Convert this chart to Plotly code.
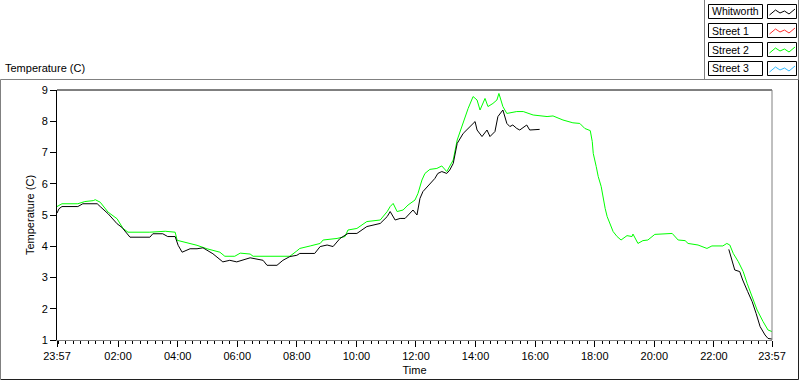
import plotly.graph_objects as go
from datetime import datetime, timedelta

# ---------------- data ----------------
series_names = ["Whitworth", "Street 1", "Street 2", "Street 3"]
series_colors = ["#000000", "#FF3030", "#00FF00", "#33BBFF"]

whit_times = ["23:57", "00:01", "00:07", "00:39", "00:49", "01:18", "01:24", "01:40", "01:58", "02:08",
              "02:24", "03:04", "03:10", "03:30", "03:40", "03:55", "04:01", "04:09", "04:25", "04:39",
              "04:51", "05:11", "05:31", "05:45", "05:59", "06:26", "06:52", "07:00", "07:20", "07:32",
              "07:46", "08:00", "08:06", "08:36", "08:47", "09:01", "09:13", "09:27", "09:43", "10:01",
              "10:21", "10:48", "11:02", "11:08", "11:18", "11:28", "11:38", "11:54", "12:02", "12:08",
              "12:14", "12:28", "12:38", "12:44", "12:52", "13:02", "13:08", "13:15", "13:23", "13:35",
              "13:59", "14:03", "14:13", "14:23", "14:29", "14:39", "14:45", "14:55", "15:03", "15:09",
              "15:15", "15:23", "15:29", "15:43", "15:49", "16:09",
              "19:00",
              "22:30", "22:36", "22:42", "22:52", "22:58", "23:08", "23:17", "23:25", "23:33", "23:43",
              "23:49", "23:57"]
whit_vals = [5.06, 5.20, 5.27, 5.27, 5.36, 5.36, 5.27, 5.04, 4.72, 4.60,
             4.29, 4.29, 4.40, 4.40, 4.31, 4.31, 4.03, 3.81, 3.92, 3.92,
             3.95, 3.76, 3.50, 3.55, 3.50, 3.63, 3.55, 3.39, 3.39, 3.55,
             3.67, 3.71, 3.77, 3.77, 3.99, 4.04, 3.99, 4.25, 4.41, 4.41,
             4.63, 4.73, 4.95, 5.11, 4.84, 4.89, 4.89, 5.16, 5.00, 5.53,
             5.75, 6.01, 6.17, 6.33, 6.39, 6.33, 6.44, 6.65, 7.29, 7.61,
             7.99, 7.72, 7.51, 7.72, 7.51, 7.67, 8.15, 8.36, 7.93, 7.83,
             7.88, 7.77, 7.72, 7.88, 7.72, 7.74,
             None,
             3.90, 3.56, 3.24, 3.19, 2.92, 2.55, 2.23, 1.85, 1.43, 1.16,
             1.05, 1.03]

st2_times = ["23:57", "00:07", "00:39", "00:53", "01:10", "01:14", "01:24", "01:40", "01:58", "02:10",
             "02:20", "03:04", "03:35", "03:55", "03:59", "04:39", "04:59", "05:25", "05:35", "05:55",
             "06:06", "06:26", "06:32", "07:46", "08:00", "08:06", "08:27", "08:47", "08:53", "09:21",
             "09:37", "09:43", "10:01", "10:21", "10:48", "11:02", "11:08", "11:14", "11:22", "11:34",
             "11:44", "11:58", "12:04", "12:12", "12:18", "12:28", "12:42", "12:52", "13:02", "13:15",
             "13:23", "13:35", "13:45", "13:55", "14:03", "14:09", "14:19", "14:25", "14:35", "14:43",
             "14:47", "14:55", "15:03", "15:23", "15:36", "15:56", "16:24", "16:36", "16:56", "17:16",
             "17:30", "17:40", "17:51", "17:55", "17:57", "18:03", "18:07", "18:13", "18:17", "18:21",
             "18:25", "18:31", "18:37", "18:45", "18:53", "19:05", "19:15", "19:17", "19:27", "19:37",
             "19:47", "20:01", "20:22", "20:36", "20:48", "21:02", "21:08", "21:28", "21:46", "21:56",
             "22:18", "22:26", "22:32", "22:39", "22:49", "22:59", "23:07", "23:17", "23:27", "23:39",
             "23:49", "23:57"]
st2_vals = [5.27, 5.36, 5.36, 5.43, 5.46, 5.49, 5.41, 5.09, 4.88, 4.57,
            4.45, 4.45, 4.48, 4.45, 4.19, 4.03, 3.92, 3.81, 3.68, 3.68,
            3.78, 3.75, 3.68, 3.68, 3.85, 3.93, 4.01, 4.09, 4.20, 4.25,
            4.31, 4.52, 4.57, 4.79, 4.84, 5.11, 5.27, 5.37, 5.11, 5.16,
            5.32, 5.48, 5.69, 6.12, 6.33, 6.46, 6.49, 6.57, 6.39, 6.76,
            7.40, 7.99, 8.41, 8.79, 8.68, 8.36, 8.73, 8.47, 8.57, 8.68,
            8.89, 8.47, 8.25, 8.31, 8.31, 8.20, 8.15, 8.17, 8.04, 7.95,
            7.93, 7.77, 7.70, 7.35, 6.97, 6.55, 6.23, 5.91, 5.48, 5.21,
            4.95, 4.68, 4.47, 4.31, 4.20, 4.34, 4.31, 4.39, 4.09, 4.18,
            4.20, 4.38, 4.39, 4.41, 4.20, 4.18, 4.09, 4.04, 3.93, 4.01,
            4.01, 4.09, 4.04, 3.77, 3.51, 3.19, 2.81, 2.39, 1.96, 1.59,
            1.32, 1.27]

x_tick_labels = ["23:57", "02:00", "04:00", "06:00", "08:00", "10:00", "12:00",
                 "14:00", "16:00", "18:00", "20:00", "22:00", "23:57"]
y_ticks = [1, 2, 3, 4, 5, 6, 7, 8, 9]

START = datetime(2000, 1, 1, 23, 57)


def to_dt(clocks):
    out, day, prev = [], 0, None
    for c in clocks:
        h, m = map(int, c.split(":"))
        mins = h * 60 + m
        if prev is not None and mins < prev:
            day += 1
        prev = mins
        out.append(datetime(2000, 1, 1) + timedelta(days=day, minutes=mins))
    return out


tick_dts = to_dt(x_tick_labels)
END = tick_dts[-1]

# ---------------- figure ----------------
W, H = 800, 380
L, R, T, B = 57, 28, 90, 40
PW, PH = W - L - R, H - T - B


def px(xp):
    return (xp - L) / PW


def py(yp):
    return (H - B - yp) / PH


fig = go.Figure()
fig.add_trace(go.Scatter(x=to_dt(st2_times), y=st2_vals, mode="lines", name=series_names[2],
                         line=dict(color=series_colors[2], width=1), showlegend=False))
fig.add_trace(go.Scatter(x=to_dt(whit_times), y=whit_vals, mode="lines", name=series_names[0],
                         line=dict(color=series_colors[0], width=1), showlegend=False,
                         connectgaps=False))

FONT = "Liberation Sans, Arial, sans-serif"
fig.update_layout(
    width=W, height=H, autosize=False,
    margin=dict(l=L, r=R, t=T, b=B, pad=0, autoexpand=False),
    paper_bgcolor="white", plot_bgcolor="white",
    font=dict(family=FONT, size=11, color="black"),
    showlegend=False,
    xaxis=dict(type="date", range=[START, END], tickmode="array", tickvals=tick_dts,
               ticktext=x_tick_labels, ticks="outside", ticklen=6, tickcolor="black",
               showgrid=False, zeroline=False, showline=True, linecolor="#808080", linewidth=1,
               automargin=False,
               minor=dict(dtick=15 * 60 * 1000, tick0="2000-01-02 00:00", ticks="outside",
                          ticklen=3, tickcolor="black", showgrid=False),
               title=dict(text="Time", standoff=5, font=dict(size=11)),
               tickfont=dict(size=11)),
    yaxis=dict(range=[1, 9], tickmode="array", tickvals=y_ticks, ticks="outside", ticklen=6,
               tickcolor="black", showgrid=False, zeroline=False, showline=True,
               linecolor="black", linewidth=1, automargin=False,
               title=dict(text="Temperature (C)", standoff=4, font=dict(size=11)),
               tickfont=dict(size=11)),
)

shapes = []
# plot-area frame: top black, right gray
shapes.append(dict(type="line", xref="paper", yref="paper", x0=0, x1=1, y0=1, y1=1,
                   line=dict(color="black", width=1)))
shapes.append(dict(type="line", xref="paper", yref="paper", x0=1, x1=1, y0=0, y1=1,
                   line=dict(color="#808080", width=1)))
# outer frame: top/left gray, right/bottom dark
shapes.append(dict(type="line", xref="paper", yref="paper", x0=px(0.5), x1=px(798.5),
                   y0=py(79.5), y1=py(79.5), line=dict(color="#808080", width=1)))
shapes.append(dict(type="line", xref="paper", yref="paper", x0=px(0.5), x1=px(0.5),
                   y0=py(79.5), y1=py(379), line=dict(color="#808080", width=1)))
shapes.append(dict(type="line", xref="paper", yref="paper", x0=px(798.5), x1=px(798.5),
                   y0=py(79.5), y1=py(379.5), line=dict(color="#202020", width=1)))
shapes.append(dict(type="line", xref="paper", yref="paper", x0=px(0.5), x1=px(798.5),
                   y0=py(379.5), y1=py(379.5), line=dict(color="#202020", width=1)))
# legend panel border
shapes.append(dict(type="line", xref="paper", yref="paper", x0=px(704.5), x1=px(704.5),
                   y0=py(0), y1=py(79.5), line=dict(color="#808080", width=1)))
shapes.append(dict(type="line", xref="paper", yref="paper", x0=px(798.5), x1=px(798.5),
                   y0=py(0), y1=py(79.5), line=dict(color="#808080", width=1)))

annotations = []
row_tops = [4.5, 23.5, 42.5, 61.5]
zig = [(769.5, 10.5), (775.5, 5.5), (780, 8.5), (784.5, 6.5), (789, 9.5), (795, 4.5)]
for name, color, top in zip(series_names, series_colors, row_tops):
    shapes.append(dict(type="rect", xref="paper", yref="paper", x0=px(708.5), x1=px(762.5),
                       y0=py(top), y1=py(top + 14), line=dict(color="black", width=1),
                       fillcolor="white"))
    shapes.append(dict(type="rect", xref="paper", yref="paper", x0=px(767.5), x1=px(796.5),
                       y0=py(top), y1=py(top + 14), line=dict(color="black", width=1),
                       fillcolor="white"))
    path = "M " + " L ".join(f"{px(a):.5f},{py(top + b):.5f}" for a, b in zig)
    shapes.append(dict(type="path", xref="paper", yref="paper", path=path,
                       line=dict(color=color, width=1)))
    annotations.append(dict(text=name, xref="paper", yref="paper", x=px(709.5), y=py(top + 7),
                            xanchor="left", yanchor="middle", showarrow=False,
                            font=dict(size=10.5, family=FONT)))

annotations.append(dict(text="Temperature (C)", xref="paper", yref="paper", x=px(3), y=py(76),
                        xanchor="left", yanchor="bottom", showarrow=False,
                        font=dict(size=11, family=FONT)))

fig.update_layout(shapes=shapes, annotations=annotations)
fig.write_html("out.html", config={"displayModeBar": False},
               post_script="document.body.style.margin='0px';document.body.style.overflow='hidden';")
